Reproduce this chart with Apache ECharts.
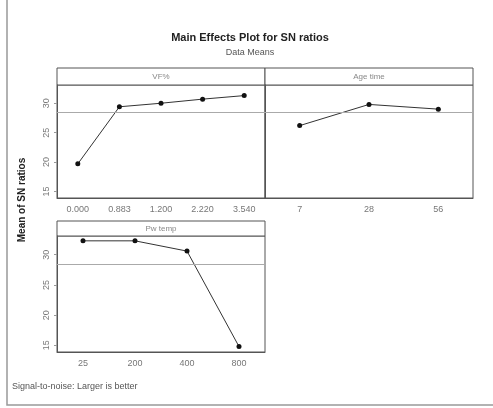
<!DOCTYPE html>
<html>
<head>
<meta charset="utf-8">
<script src="https://cdn.jsdelivr.net/npm/echarts@6/dist/echarts.min.js"></script>
<style>
html, body { margin: 0; padding: 0; background: #fff; }
#chart { width: 493px; height: 408px; }
</style>
</head>
<body>
<div id="chart"></div>
<script>
// data
var vfLevels = ["0.000", "0.883", "1.200", "2.220", "3.540"];
var vfMeans = [19.7, 29.4, 30.0, 30.7, 31.3];
var ageLevels = ["7", "28", "56"];
var ageMeans = [26.2, 29.8, 29.0];
var tempLevels = ["25", "200", "400", "800"];
var tempMeans = [32.3, 32.3, 30.6, 14.8];
var overallMean = 28.4;
var yTicks = [15, 20, 25, 30];
var panelNames = ["VF%", "Age time", "Pw temp"];

var font = "Liberation Sans";
var gridList = [
    { left: 57, top: 85, width: 208, height: 113 },
    { left: 265, top: 85, width: 208, height: 113 },
    { left: 57, top: 236, width: 208, height: 116 }
];
var headers = [
    { x: 57, y: 68, w: 208, h: 17 },
    { x: 265, y: 68, w: 208, h: 17 },
    { x: 57, y: 221, w: 208, h: 15 }
];

function xAxisFor(i, cats) {
    return {
        type: "category", gridIndex: i, data: cats, boundaryGap: true,
        axisLine: { lineStyle: { color: "#555", width: 1 } },
        axisTick: { alignWithLabel: true, length: 3, lineStyle: { color: "#999" } },
        axisLabel: { color: "#777", fontFamily: font, fontSize: 9, margin: 7 }
    };
}

function yAxisFor(i, showLabels) {
    return {
        type: "value", gridIndex: i, min: 13.9, max: 33.1,
        splitLine: { show: false },
        axisLine: { show: true, lineStyle: { color: "#555", width: 1 } },
        axisTick: { show: showLabels, length: 3, customValues: yTicks, lineStyle: { color: "#999" } },
        axisLabel: { show: showLabels, customValues: yTicks, rotate: 90, color: "#777",
            fontFamily: font, fontSize: 9, margin: 6 }
    };
}

function seriesFor(i, vals) {
    return {
        type: "line", xAxisIndex: i, yAxisIndex: i, data: vals,
        symbol: "circle", symbolSize: 5,
        itemStyle: { color: "#111" },
        lineStyle: { color: "#333", width: 1 },
        animation: false,
        markLine: {
            silent: true, symbol: "none", label: { show: false },
            lineStyle: { color: "#aaa", type: "solid", width: 1 },
            data: [{ yAxis: overallMean }]
        }
    };
}

var graphics = [
    { type: "rect", shape: { x: 7, y: -2, width: 490, height: 407 },
      style: { fill: "none", stroke: "#999", lineWidth: 1.5 } },
    { type: "text", x: 250, y: 38, style: { text: "Main Effects Plot for SN ratios",
      font: "bold 11px " + font, fill: "#222", textAlign: "center", textVerticalAlign: "middle" } },
    { type: "text", x: 250, y: 53, style: { text: "Data Means",
      font: "9px " + font, fill: "#555", textAlign: "center", textVerticalAlign: "middle" } },
    { type: "text", x: 22, y: 200, rotation: Math.PI / 2, style: { text: "Mean of SN ratios",
      font: "bold 10px " + font, fill: "#222", textAlign: "center", textVerticalAlign: "middle" } },
    { type: "text", x: 12, y: 387, style: { text: "Signal-to-noise: Larger is better",
      font: "9px " + font, fill: "#555", textAlign: "left", textVerticalAlign: "middle" } }
];
headers.forEach(function (h, i) {
    graphics.push({ type: "rect", shape: { x: h.x, y: h.y, width: h.w, height: h.h },
        style: { fill: "#fff", stroke: "#555", lineWidth: 1 } });
    graphics.push({ type: "text", x: h.x + h.w / 2, y: h.y + h.h / 2, style: { text: panelNames[i],
        font: "8px " + font, fill: "#888", textAlign: "center", textVerticalAlign: "middle" } });
});

var chart = echarts.init(document.getElementById("chart"));
chart.setOption({
    backgroundColor: "#fff",
    animation: false,
    grid: gridList.map(function (g) {
        return { left: g.left, top: g.top, width: g.width, height: g.height,
            show: true, borderColor: "#555", borderWidth: 1, containLabel: false };
    }),
    xAxis: [xAxisFor(0, vfLevels), xAxisFor(1, ageLevels), xAxisFor(2, tempLevels)],
    yAxis: [yAxisFor(0, true), yAxisFor(1, false), yAxisFor(2, true)],
    series: [seriesFor(0, vfMeans), seriesFor(1, ageMeans), seriesFor(2, tempMeans)],
    graphic: graphics
});
</script>
</body>
</html>
